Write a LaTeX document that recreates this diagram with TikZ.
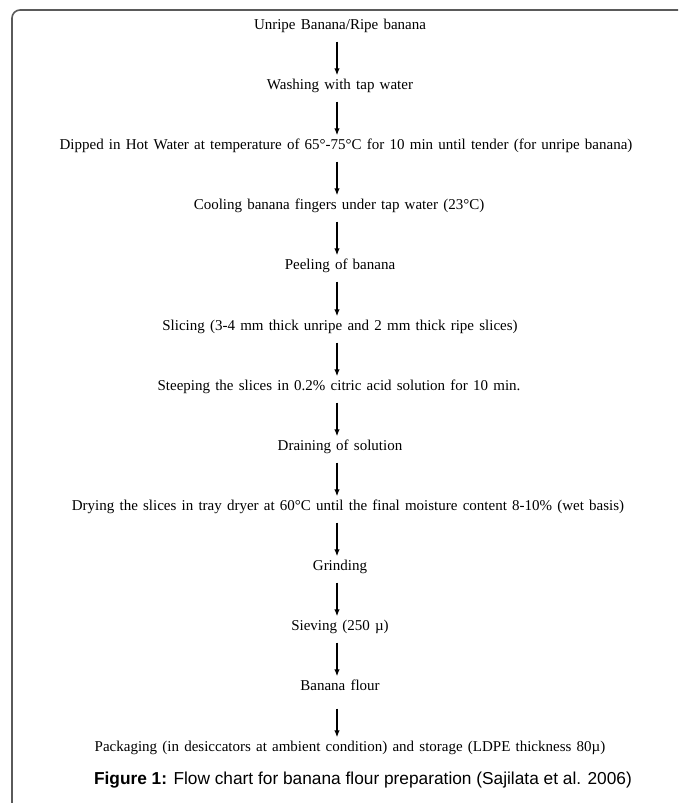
\documentclass[tikz,border=0pt]{standalone}
\usepackage{fontspec}
\setmainfont{Liberation Serif}
\newfontfamily\capfont{Liberation Sans}
\usetikzlibrary{arrows.meta}
\definecolor{framegray}{HTML}{5A5A5A}
\newcommand\stagefont{\fontsize{15}{18}\selectfont\spaceskip=5.2pt plus 1pt minus 1pt\relax}
\begin{document}
\begin{tikzpicture}[x=1pt,y=-1pt,
		stage/.style={inner sep=0pt,text height=10pt,text depth=3pt,font=\stagefont},
		flow/.style={-{Latex[length=7pt,width=5.5pt]},line width=1.3pt,shorten <=9pt,shorten >=4pt}]
		\useasboundingbox (0,0) rectangle (678,803);
		\draw [framegray,line width=1.6pt,rounded corners=8pt] (12,803) -- (12,10) -- (678,10);
		\coordinate (spine) at (337,0);
		\node [stage] (raw) at (340,26) {Unripe Banana/Ripe banana};
		\node [stage] (wash) at (340,86) {Washing with tap water};
		\node [stage] (dip) at (346,146) {Dipped in Hot Water at temperature of 65°-75°C for 10 min until tender (for unripe banana)};
		\node [stage] (cool) at (339,206) {Cooling banana fingers under tap water (23°C)};
		\node [stage] (peel) at (340,266) {Peeling of banana};
		\node [stage] (slice) at (340,327) {Slicing (3-4 mm thick unripe and 2 mm thick ripe slices)};
		\node [stage] (steep) at (339,387) {Steeping the slices in 0.2\% citric acid solution for 10 min.};
		\node [stage] (drain) at (340,447) {Draining of solution};
		\node [stage] (dry) at (348,507) {Drying the slices in tray dryer at 60°C until the final moisture content 8-10\% (wet basis)};
		\node [stage] (grind) at (340,567) {Grinding};
		\node [stage] (sieve) at (340,627) {Sieving (250 µ)};
		\node [stage] (flour) at (340,687) {Banana flour};
		\node [stage] (pack) at (350,748) {Packaging (in desiccators at ambient condition) and storage (LDPE thickness 80µ)};
		\node [inner sep=0pt,font=\capfont\fontsize{17.3}{20}\selectfont] (caption) at (363,780) {\textbf{Figure 1:} Flow chart for banana flour preparation (Sajilata et al. 2006)};
		\foreach \a/\b in {raw/wash,wash/dip,dip/cool,cool/peel,peel/slice,slice/steep,steep/drain,drain/dry,dry/grind,grind/sieve,sieve/flour}
			\draw [flow] (\a.south -| spine) -- (\b.north -| spine);
		\draw [flow,shorten <=15pt] (flour.south -| spine) -- (pack.north -| spine);
		\end{tikzpicture}
\end{document}
